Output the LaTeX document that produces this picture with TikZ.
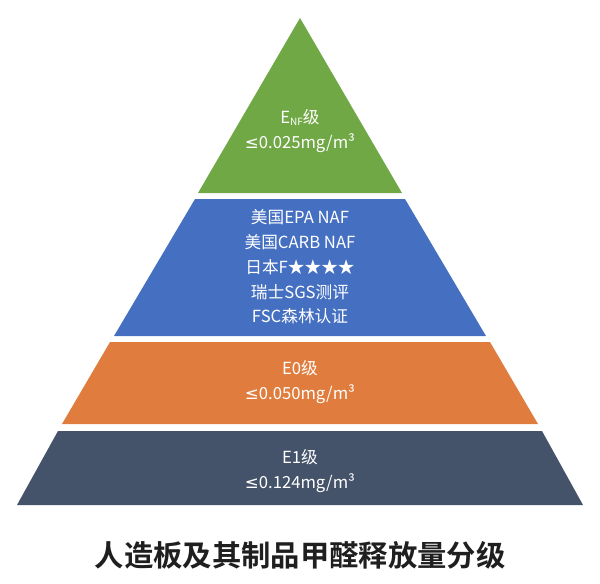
\documentclass[tikz,border=0pt]{standalone}
\usepackage{fontspec}
\setmainfont{Noto Sans CJK SC}
\newfontfamily\titlefont{Noto Sans CJK SC Bold}
\newfontfamily\dv{DejaVu Sans}
\newcommand{\mle}{{\dv ≤}}
\begin{document}
\begin{tikzpicture}[x=0.75pt,y=-0.75pt,
  lbl/.style={text=white,font=\fontsize{12.5}{18.6}\selectfont,align=center}]
\useasboundingbox (0,0) rectangle (600,583);
\definecolor{cg}{HTML}{70A845}
\definecolor{cb}{HTML}{4570C2}
\definecolor{co}{HTML}{E07D3E}
\definecolor{cd}{HTML}{45536A}
\fill[cg] (300,18) -- (402,193) -- (198,193) -- cycle;
\fill[cb] (195,199) -- (405,199) -- (486,336) -- (114,336) -- cycle;
\fill[co] (110,342) -- (490,342) -- (538,424) -- (62,424) -- cycle;
\fill[cd] (58,431) -- (542,431) -- (583,505) -- (17,505) -- cycle;
\node[lbl] (g) at (300,131) {E\raisebox{-0.2ex}{\fontsize{7.5}{8}\selectfont NF}级\\\mle0.025mg/m³};
\node[lbl] (b) at (300,267) {美国EPA NAF\\美国CARB NAF\\日本F★★★★\\瑞士SGS测评\\FSC森林认证};
\node[lbl] (o) at (300,382) {E0级\\\mle0.050mg/m³};
\node[lbl] (d) at (300,471) {E1级\\\mle0.124mg/m³};
\node[text=black!88,font=\titlefont\fontsize{22}{24}\selectfont] (t) at (300,555) {人造板及其制品甲醛释放量分级};
\end{tikzpicture}
\end{document}
